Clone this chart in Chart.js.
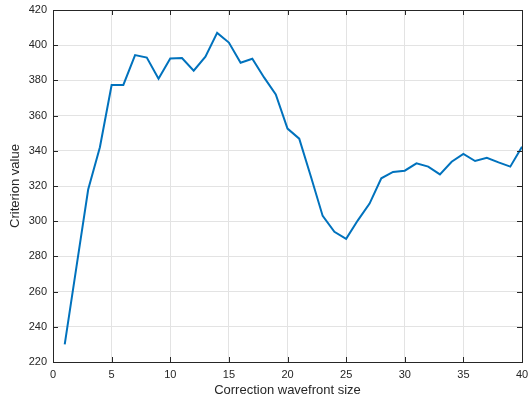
<!DOCTYPE html>
<html>
<head>
<meta charset="utf-8">
<script src="https://cdn.jsdelivr.net/npm/chart.js@4/dist/chart.umd.min.js"></script>
<style>
  html, body { margin: 0; padding: 0; background: #fff; }
  #wrap { width: 529px; height: 400px; }
</style>
</head>
<body>
<div id="wrap"><canvas id="chart" width="529" height="400"></canvas></div>
<script>
// wavefront sizes 1..40 and criterion values
const sizes = [1, 2, 3, 4, 5, 6, 7, 8, 9, 10,
               11, 12, 13, 14, 15, 16, 17, 18, 19, 20,
               21, 22, 23, 24, 25, 26, 27, 28, 29, 30,
               31, 32, 33, 34, 35, 36, 37, 38, 39, 40];
const criterion = [230, 274, 318, 342, 377.4, 377.4, 394.4, 393, 381, 392.5,
                   392.7, 385.5, 393.5, 407, 401.5, 390, 392.3, 381.7, 372, 352.6,
                   346.9, 325.3, 303, 294, 290, 300.5, 310, 324.4, 328, 328.7,
                   332.9, 331, 326.6, 333.8, 338.2, 334.2, 336, 333.4, 331, 342.3];
const xTicks = [0, 5, 10, 15, 20, 25, 30, 35, 40];
const yTicks = [220, 240, 260, 280, 300, 320, 340, 360, 380, 400, 420];

const axisColor = '#262626';
const font = {family: '"Liberation Sans", Arial, sans-serif', size: 11};
const titleFont = {family: font.family, size: 13};

// matlab-ish box with inward ticks on all four sides
const boxPlugin = {
    id: 'box',
    afterDraw(chart) {
        const {ctx, chartArea: a, scales} = chart;
        ctx.save();
        ctx.strokeStyle = axisColor;
        ctx.lineWidth = 1;
        ctx.beginPath();
        xTicks.forEach(v => {
            const px = Math.round(scales.x.getPixelForValue(v)) + 0.5;
            ctx.moveTo(px, a.bottom); ctx.lineTo(px, a.bottom - 5);
            ctx.moveTo(px, a.top); ctx.lineTo(px, a.top + 5);
        });
        yTicks.forEach(v => {
            const py = Math.round(scales.y.getPixelForValue(v)) + 0.5;
            ctx.moveTo(a.left, py); ctx.lineTo(a.left + 5, py);
            ctx.moveTo(a.right, py); ctx.lineTo(a.right - 5, py);
        });
        ctx.stroke();
        ctx.strokeRect(Math.round(a.left) + 0.5, Math.round(a.top) + 0.5,
                       Math.round(a.right - a.left), Math.round(a.bottom - a.top));
        ctx.restore();
    }
};

new Chart(document.getElementById('chart'), {
    type: 'line',
    data: {
        datasets: [{
            data: sizes.map((s, i) => ({x: s, y: criterion[i]})),
            borderColor: '#0072BD',
            borderWidth: 2,
            pointRadius: 0,
            tension: 0,
            fill: false
        }]
    },
    options: {
        responsive: false,
        animation: false,
        layout: {padding: {top: 10, right: 7, left: 0, bottom: 0}},
        plugins: {legend: {display: false}, tooltip: {enabled: false}},
        scales: {
            x: {
                type: 'linear',
                min: 0, max: 40,
                afterBuildTicks: s => { s.ticks = xTicks.map(v => ({value: v})); },
                afterFit: s => { s.height = 38; s.paddingLeft = 0; s.paddingRight = 0; },
                ticks: {color: axisColor, font: font, padding: 6, maxRotation: 0},
                grid: {color: '#e3e3e3', drawTicks: false},
                border: {display: false},
                title: {display: true, text: 'Correction wavefront size', color: axisColor,
                        font: titleFont, padding: {top: 2, bottom: 2}}
            },
            y: {
                min: 220, max: 420,
                afterBuildTicks: s => { s.ticks = yTicks.map(v => ({value: v})); },
                afterFit: s => { s.width = 53; s.paddingTop = 0; s.paddingBottom = 0; },
                ticks: {color: axisColor, font: font, padding: 6},
                grid: {color: '#e3e3e3', drawTicks: false},
                border: {display: false},
                title: {display: true, text: 'Criterion value', color: axisColor,
                        font: titleFont, padding: {top: 8, bottom: 0}}
            }
        }
    },
    plugins: [boxPlugin]
});
</script>
</body>
</html>
